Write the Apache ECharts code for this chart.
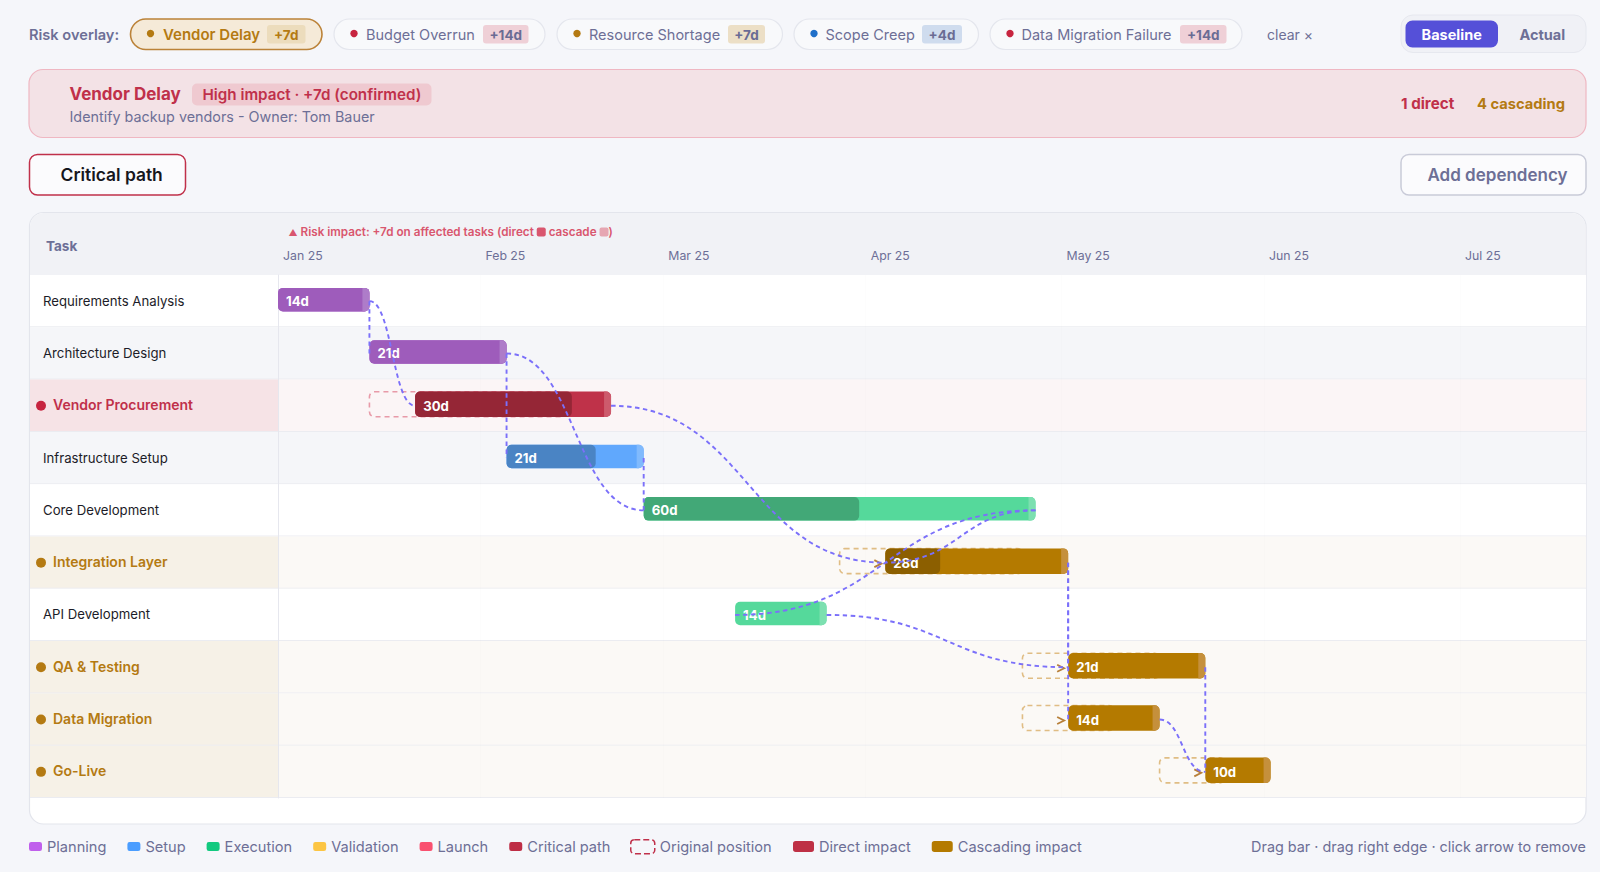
<!DOCTYPE html>
<html>
<head>
<meta charset="utf-8">
<title>Project risk overlay</title>
<script src="https://cdn.jsdelivr.net/npm/echarts@6/dist/echarts.min.js"></script>
<style>
  html, body { margin: 0; padding: 0; background: #f5f6fa; }
  #chart { width: 1600px; height: 872px; }
</style>
</head>
<body>
<div id="chart"></div>
<script>
// tasks, one per row
const taskNames = ['Requirements Analysis', 'Architecture Design', 'Vendor Procurement', 'Infrastructure Setup', 'Core Development',
  'Integration Layer', 'API Development', 'QA & Testing', 'Data Migration', 'Go-Live'];
const taskGroups = ['Planning', 'Planning', 'Direct impact', 'Setup', 'Execution',
  'Cascading impact', 'Execution', 'Cascading impact', 'Cascading impact', 'Cascading impact'];
// days since Jan 1
const taskStarts = [0, 14, 21, 35, 56, 93, 70, 121, 121, 142];
const taskDurations = [14, 21, 30, 21, 60, 28, 14, 21, 14, 10];
const taskProgress = [100, 100, 80, 65, 55, 30, 0, 0, 0, 0];
const originalStarts = [null, null, 14, null, null, 86, null, 114, 114, 135];
// [from task, to task]
const dependencies = [[0, 1], [0, 2], [1, 3], [1, 4], [3, 4], [2, 5], [4, 5], [4, 6], [5, 7], [5, 8], [6, 7], [7, 9], [8, 9]];

const monthDays = [0, 31, 59, 90, 120, 151, 181];
const monthLabels = ['Jan 25', 'Feb 25', 'Mar 25', 'Apr 25', 'May 25', 'Jun 25', 'Jul 25'];

const riskNames = ['Vendor Delay', 'Budget Overrun', 'Resource Shortage', 'Scope Creep', 'Data Migration Failure'];
const riskDelays = ['+7d', '+14d', '+7d', '+4d', '+14d'];
const riskLevels = ['medium', 'high', 'medium', 'low', 'high'];

const legendBasic = ['Planning', 'Setup', 'Execution', 'Validation', 'Launch', 'Critical path'];

const FONT = 'Inter, "Noto Sans", sans-serif';
const CRIMSON = '#c0304a';
const BROWN = '#b47a12';
const MUTED = '#6d6f96';

// base colour of the bar, and the darker part that shows progress
const groupColors = {
  'Planning': { swatch: '#c05fec', bar: '#b06fd0', done: '#9e5cbb', handle: '#ae7cc9' },
  'Setup': { swatch: '#4a9dff', bar: '#60a8fd', done: '#4a84c4', handle: '#80bafd' },
  'Execution': { swatch: '#12c97f', bar: '#55d99b', done: '#42a877', handle: '#7ce0b0' },
  'Validation': { swatch: '#fcc543' },
  'Launch': { swatch: '#f9506f' },
  'Critical path': { swatch: '#be2d45' },
  'Direct impact': { swatch: '#be3045', bar: '#bf3249', done: '#952636', handle: '#cd5a6c' },
  'Cascading impact': { swatch: '#b47a00', bar: '#b47a00', done: '#8c5f00', handle: '#c5903c' }
};
const pillColors = {
  high: { dot: '#c7243f', badge: '#efd0d7', text: '#6d6f96' },
  medium: { dot: '#b47a12', badge: '#ecdfc6', text: '#6d6f96' },
  low: { dot: '#1f6fc9', badge: '#cfdcee', text: '#6d6f96' }
};

const GRID_LEFT = 278, GRID_TOP = 275, GRID_RIGHT = 1586, GRID_BOTTOM = 798;
const CARD_LEFT = 30;

function rowColors(idx) {
  const group = taskGroups[idx];
  if (group === 'Direct impact') return { row: '#fbf5f6', cell: '#f6e3e6' };
  if (group === 'Cascading impact') return { row: '#fbf9f6', cell: '#f6f1e7' };
  return idx % 2 ? { row: '#f5f6f9', cell: '#f5f6f9' } : { row: '#ffffff', cell: '#ffffff' };
}

function renderRow(params, api) {
  const idx = api.value(0);
  const top = api.coord([0, idx])[1] - api.size([0, 1])[1] / 2;
  const h = api.size([0, 1])[1];
  const colors = rowColors(idx);
  return {
    type: 'group',
    children: [
      { type: 'rect', shape: { x: CARD_LEFT, y: top, width: GRID_LEFT - CARD_LEFT, height: h }, style: { fill: colors.cell } },
      { type: 'rect', shape: { x: GRID_LEFT, y: top, width: GRID_RIGHT - GRID_LEFT, height: h }, style: { fill: colors.row } },
      { type: 'rect', shape: { x: CARD_LEFT, y: top + h - 1, width: GRID_RIGHT - CARD_LEFT, height: 1 }, style: { fill: '#ebecf1' } }
    ]
  };
}

function renderBar(params, api) {
  const start = api.value(0), idx = api.value(1), dur = api.value(2), progress = api.value(3);
  const group = taskGroups[idx];
  const colors = groupColors[group];
  const p = api.coord([start, idx]);
  const w = api.size([dur, 0])[0];
  const tall = group === 'Direct impact' || group === 'Cascading impact';
  const h = tall ? 25.5 : 23.5;
  const y = p[1] - h / 2 - 1.5;
  const children = [
    { type: 'rect', shape: { x: p[0], y: y, width: w, height: h, r: 5 }, style: { fill: colors.bar } }
  ];
  if (progress > 0) {
    children.push({ type: 'rect', shape: { x: p[0], y: y, width: w * progress / 100, height: h, r: 5 }, style: { fill: colors.done } });
  }
  children.push({ type: 'rect', shape: { x: p[0] + w - 7, y: y, width: 7, height: h, r: [0, 5, 5, 0] }, style: { fill: colors.handle } });
  children.push({
    type: 'text',
    style: { x: p[0] + 8, y: p[1], text: dur + 'd', fill: '#ffffff', font: '700 13.2px ' + FONT, textVerticalAlign: 'middle' }
  });
  // small arrow head left of a pushed-out bar
  if (group === 'Cascading impact') {
    children.unshift({
      type: 'polyline',
      shape: { points: [[p[0] - 11, p[1] - 2.5], [p[0] - 4, p[1] + 1], [p[0] - 11, p[1] + 4.5]] },
      style: { fill: null, stroke: '#b8803a', lineWidth: 1.8 }
    });
  }
  return { type: 'group', children: children };
}

function renderGhost(params, api) {
  const start = api.value(0), idx = api.value(1), dur = api.value(2);
  const p = api.coord([start, idx]);
  const direct = taskGroups[idx] === 'Direct impact';
  return {
    type: 'rect',
    shape: { x: p[0], y: p[1] - 14, width: api.size([dur, 0])[0], height: 25, r: 5 },
    style: { fill: 'transparent', stroke: direct ? '#e89aa8' : '#e0bd84', lineWidth: 1.6, lineDash: [5, 4] }
  };
}

function renderLink(params, api) {
  const a = api.coord([api.value(0), api.value(1)]);
  const b = api.coord([api.value(2), api.value(3)]);
  const midX = (a[0] + b[0]) / 2;
  return {
    type: 'bezierCurve',
    shape: { x1: a[0], y1: a[1], x2: b[0], y2: b[1], cpx1: midX, cpy1: a[1], cpx2: midX, cpy2: b[1] },
    style: { fill: null, stroke: '#7b70fa', lineWidth: 1.9, lineDash: [4.5, 3.5] }
  };
}

function barSeries(name) {
  const data = [];
  taskNames.forEach((t, i) => {
    if (taskGroups[i] === name) data.push([taskStarts[i], i, taskDurations[i], taskProgress[i]]);
  });
  return {
    name: name,
    type: 'custom',
    z: 5,
    renderItem: renderBar,
    itemStyle: { color: groupColors[name].swatch },
    data: data
  };
}

function text(x, y, str, font, fill, align) {
  return {
    type: 'text', silent: true, z: -5,
    style: { x: x, y: y, text: str, font: font + ' ' + FONT, fill: fill, textAlign: align || 'left', textVerticalAlign: 'middle' }
  };
}
function box(x0, y0, x1, y1, r, fill, stroke, lw) {
  return {
    type: 'rect', silent: true, z: -6,
    shape: { x: x0, y: y0, width: x1 - x0, height: y1 - y0, r: r },
    style: { fill: fill, stroke: stroke || null, lineWidth: lw || 0 }
  };
}

// risk pills: [pill left, pill right, dot x, text x, badge left, badge right]
const pillBoxes = [
  [130.5, 322, 150.5, 163, 267, 305.5],
  [334, 545, 354, 366, 483, 528.5],
  [557, 782.5, 577, 589, 728, 765],
  [794, 978.5, 814, 825.5, 922, 962],
  [990, 1242, 1010, 1021.5, 1180, 1226.5]
];

const chrome = [];
chrome.push(text(29, 34.7, 'Risk overlay:', '600 14.6px', MUTED));
riskNames.forEach((name, i) => {
  const b = pillBoxes[i];
  const c = pillColors[riskLevels[i]];
  const active = i === 0;
  chrome.push(box(b[0], 19, b[1], 49.5, 15.25, active ? '#f5ead8' : '#f8f9fb', active ? '#bb8238' : '#e4e6ed', active ? 1.6 : 1.2));
  chrome.push({ type: 'circle', silent: true, z: -5, shape: { cx: b[2], cy: 33.5, r: 3.7 }, style: { fill: c.dot } });
  chrome.push(text(b[3], 34.5, name, active ? '600 15px' : '400 14.5px', active ? BROWN : c.text));
  chrome.push(box(b[4], 25, b[5], 43.5, 3, active ? '#ecdcbc' : c.badge));
  chrome.push(text((b[4] + b[5]) / 2, 34.5, riskDelays[i], '700 13.5px', active ? BROWN : '#6a6c94', 'center'));
});
chrome.push(text(1267, 34, 'clear ×', '400 14px', MUTED));

// baseline / actual toggle
chrome.push(box(1401, 15, 1586, 52.5, 12, '#f0f1f6', '#e6e8ef', 1));
chrome.push(box(1405.5, 20.5, 1498, 47.5, 7, '#5550d8'));
chrome.push(text(1451.7, 34.5, 'Baseline', '700 14.5px', '#ffffff', 'center'));
chrome.push(text(1542.3, 34.5, 'Actual', '700 14.5px', MUTED, 'center'));

// selected risk banner
chrome.push(box(29, 69.5, 1586, 137.5, 14, '#f3e2e6', '#efb7c2', 1.2));
chrome.push(text(69.5, 93.5, riskNames[0], '700 17px', CRIMSON));
chrome.push(box(192, 83.5, 431.5, 105.5, 5, '#efc9d0'));
chrome.push(text(202.5, 94.5, 'High impact · +7d (confirmed)', '600 15.2px', CRIMSON));
chrome.push(text(69.5, 116, 'Identify backup vendors - Owner: Tom Bauer', '400 14.35px', MUTED));
chrome.push(text(1401, 103.5, '1 direct', '700 15.2px', CRIMSON));
chrome.push(text(1477, 103.5, '4 cascading', '700 14.7px', BROWN));

// buttons
chrome.push(box(29.5, 154.5, 185.5, 195, 8, '#fbfbfd', CRIMSON, 1.5));
chrome.push(text(111.7, 174.5, 'Critical path', '600 17.4px', '#16161d', 'center'));
chrome.push(box(1401, 154.5, 1586, 195, 8, '#fbfbfd', '#c9cbd8', 1.5));
chrome.push(text(1497.5, 174.5, 'Add dependency', '600 17px', MUTED, 'center'));

// chart card and its header
chrome.push(box(29.5, 212.5, 1586, 824, 14, '#ffffff', '#e3e5ec', 1.2));
chrome.push(box(30, 213, 1585.5, 275, [14, 14, 0, 0], '#f1f2f6'));
chrome.push(text(46, 246, 'Task', '700 13.5px', MUTED));
chrome.push({
  type: 'text', silent: true, z: -5,
  style: {
    x: 288.5, y: 232, font: '600 11.7px ' + FONT, fill: '#d9566e', textVerticalAlign: 'middle',
    text: '{t|▲} Risk impact: +7d on affected tasks (direct {a| } cascade {b| })',
    rich: {
      t: { fontSize: 9, fontFamily: FONT, fill: '#d9566e', color: '#d9566e' },
      a: { width: 9, height: 9, backgroundColor: '#d9566e', borderRadius: 2 },
      b: { width: 9, height: 9, backgroundColor: '#e6a6b2', borderRadius: 2 }
    }
  }
});
chrome.push(text(1586, 846.5, 'Drag bar · drag right edge · click arrow to remove', '400 14.4px', MUTED, 'right'));

const legendText = { color: MUTED, fontFamily: FONT, fontSize: 14.6 };

const chart = echarts.init(document.getElementById('chart'), null, { renderer: 'svg' });
chart.setOption({
  animation: false,
  backgroundColor: '#f5f6fa',
  grid: { left: GRID_LEFT, top: GRID_TOP, width: GRID_RIGHT - GRID_LEFT, height: GRID_BOTTOM - GRID_TOP, containLabel: false },
  graphic: { elements: chrome },
  legend: [
    { left: 29, top: 839, padding: 0, itemWidth: 13, itemHeight: 9, itemGap: 21, icon: 'roundRect', selectedMode: false, textStyle: legendText, data: legendBasic },
    {
      left: 630, top: 839, padding: 0, itemWidth: 24, itemHeight: 14, icon: 'roundRect', selectedMode: false, textStyle: legendText,
      data: [{ name: 'Original position', itemStyle: { color: 'transparent', borderColor: CRIMSON, borderWidth: 1.5, borderType: 'dashed' } }]
    },
    { left: 793, top: 839, padding: 0, itemWidth: 21, itemHeight: 11, itemGap: 21, icon: 'roundRect', selectedMode: false, textStyle: legendText, data: ['Direct impact', 'Cascading impact'] }
  ],
  xAxis: {
    type: 'value',
    position: 'top',
    min: 0,
    max: 200.3,
    z: 3,
    axisLine: { show: false },
    axisTick: { show: false, customValues: monthDays },
    splitLine: { show: true, lineStyle: { color: 'rgba(120,120,140,0.015)' } },
    axisLabel: {
      customValues: monthDays,
      formatter: v => monthLabels[monthDays.indexOf(v)],
      align: 'left',
      padding: [0, 0, 0, 5],
      margin: 14,
      color: MUTED,
      fontFamily: FONT,
      fontSize: 12.3
    }
  },
  yAxis: {
    type: 'category',
    inverse: true,
    data: taskNames,
    z: 3,
    axisLine: { show: true, lineStyle: { color: '#e6e7ee' } },
    axisTick: { show: false },
    splitLine: { show: false },
    axisLabel: {
      interval: 0,
      align: 'left',
      margin: 242,
      fontFamily: FONT,
      formatter: (v, i) => {
        const g = taskGroups[i];
        if (g === 'Direct impact') return '{dr| }{r|' + v + '}';
        if (g === 'Cascading impact') return '{dc| }{c|' + v + '}';
        return '{n|' + v + '}';
      },
      rich: {
        n: { color: '#1c1c28', fontFamily: FONT, fontSize: 13.2, padding: [0, 0, 1, 7] },
        r: { color: CRIMSON, fontFamily: FONT, fontSize: 14, fontWeight: 600, padding: [0, 0, 2, 7] },
        c: { color: BROWN, fontFamily: FONT, fontSize: 14, fontWeight: 600, padding: [0, 0, 2, 7] },
        dr: { width: 10, height: 10, borderRadius: 5, backgroundColor: '#c7243f' },
        dc: { width: 10, height: 10, borderRadius: 5, backgroundColor: BROWN }
      }
    }
  },
  series: [
    { name: 'rows', type: 'custom', z: 1, renderItem: renderRow, encode: { x: 1, y: 0 }, data: taskNames.map((t, i) => [i, 0]) },
    {
      name: 'Original position',
      type: 'custom',
      z: 4,
      renderItem: renderGhost,
      itemStyle: { color: CRIMSON },
      data: originalStarts.map((s, i) => [s, i, taskDurations[i]]).filter(d => d[0] !== null)
    },
    barSeries('Planning'),
    barSeries('Setup'),
    barSeries('Execution'),
    barSeries('Validation'),
    barSeries('Launch'),
    barSeries('Critical path'),
    barSeries('Direct impact'),
    barSeries('Cascading impact'),
    {
      name: 'dependencies',
      type: 'custom',
      z: 6,
      renderItem: renderLink,
      encode: { x: [0, 2], y: [1, 3] },
      data: dependencies.map(d => [taskStarts[d[0]] + taskDurations[d[0]], d[0], taskStarts[d[1]], d[1]])
    }
  ]
});
</script>
</body>
</html>
